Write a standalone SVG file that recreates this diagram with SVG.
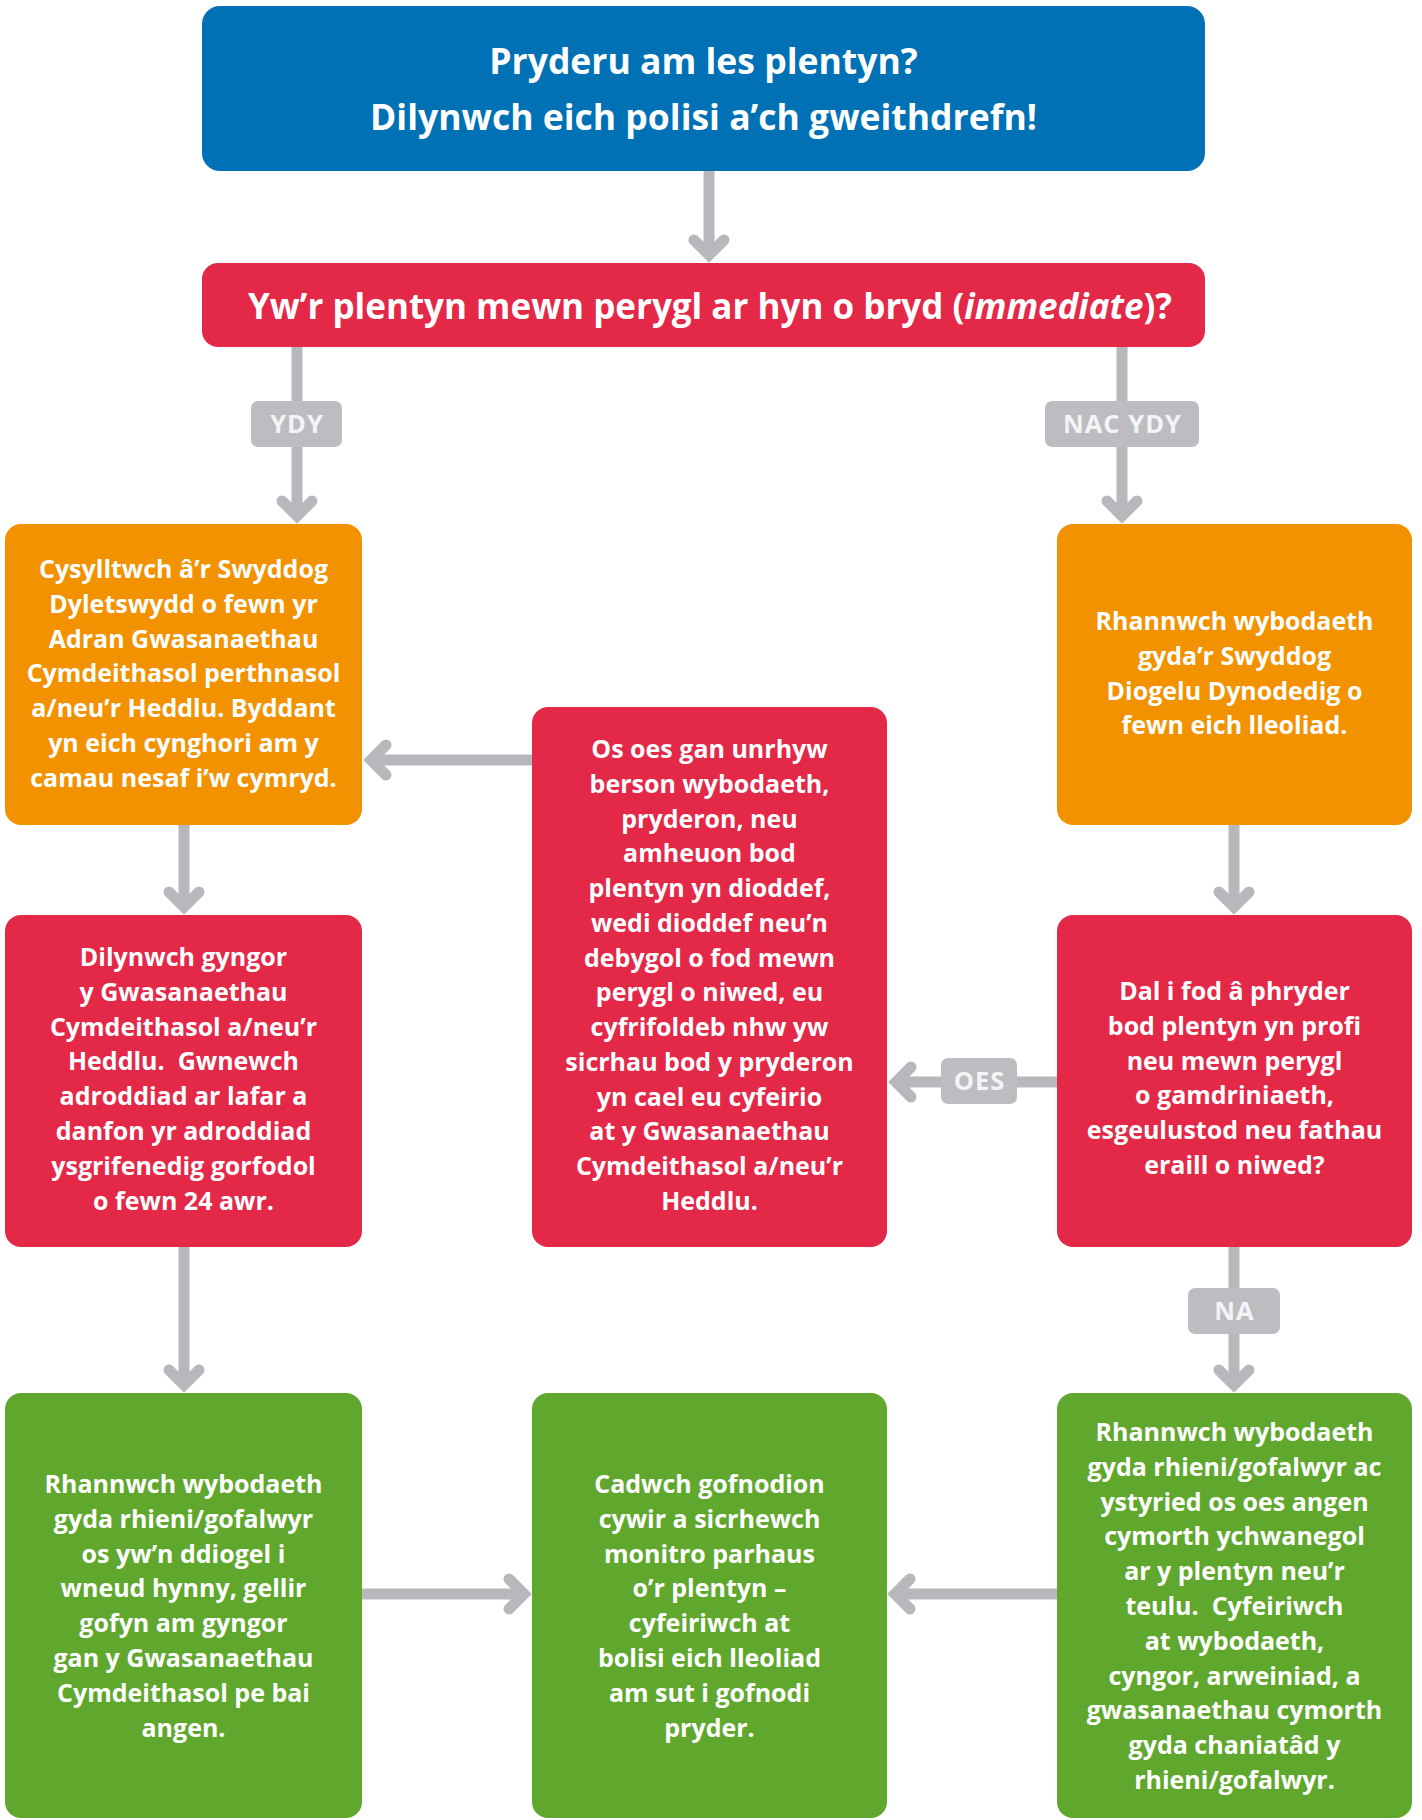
<svg xmlns="http://www.w3.org/2000/svg" width="1422" height="1820" viewBox="0 0 1422 1820">
<style>
.blue{fill:#0071b5}
.red{fill:#e42848}
.orange{fill:#f39200}
.green{fill:#5fa82d}
.t{font-family:"Open Sans","Liberation Sans",sans-serif;font-weight:700;fill:#ffffff;text-anchor:middle}
.body{font-size:25px}
.head{font-size:35.5px}
.bar{font-size:35px}
.conn{stroke:#b7b8bc;stroke-width:11;fill:none}
.lbl{fill:#bdbdc1}
.lt{font-family:"Open Sans","Liberation Sans",sans-serif;font-weight:700;font-size:25.5px;fill:#f4f4f6;text-anchor:middle;letter-spacing:1px}
</style>
<defs>
<marker id="ah" markerUnits="userSpaceOnUse" markerWidth="60" markerHeight="60" viewBox="-30 -30 60 60" refX="0" refY="0" orient="auto" overflow="visible">
<path d="M -15,-15 L 0,0 L -15,15" fill="none" stroke="#b7b8bc" stroke-width="11" stroke-linejoin="miter" stroke-linecap="round"/>
</marker>
</defs>
<rect width="1422" height="1820" fill="#ffffff"/>

<g id="connectors">
<line class="conn" x1="709" y1="171" x2="709" y2="255" marker-end="url(#ah)"/>
<line class="conn" x1="297" y1="347" x2="297" y2="516" marker-end="url(#ah)"/>
<line class="conn" x1="1122" y1="347" x2="1122" y2="516" marker-end="url(#ah)"/>
<line class="conn" x1="532" y1="760" x2="371" y2="760" marker-end="url(#ah)"/>
<line class="conn" x1="184" y1="825" x2="184" y2="907" marker-end="url(#ah)"/>
<line class="conn" x1="1234" y1="825" x2="1234" y2="907" marker-end="url(#ah)"/>
<line class="conn" x1="1057" y1="1082" x2="896" y2="1082" marker-end="url(#ah)"/>
<line class="conn" x1="184" y1="1247" x2="184" y2="1385" marker-end="url(#ah)"/>
<line class="conn" x1="1234" y1="1247" x2="1234" y2="1385" marker-end="url(#ah)"/>
<line class="conn" x1="362" y1="1594" x2="524" y2="1594" marker-end="url(#ah)"/>
<line class="conn" x1="1057" y1="1594" x2="895" y2="1594" marker-end="url(#ah)"/>
<g id="label-ydy"><rect class="lbl" x="251" y="401" width="91" height="46" rx="7"/><text class="lt" x="297" y="433">YDY</text></g>
<g id="label-nacydy"><rect class="lbl" x="1045" y="401" width="154" height="46" rx="7"/><text class="lt" x="1122.5" y="433">NAC YDY</text></g>
<g id="label-oes"><rect class="lbl" x="941" y="1058" width="76" height="46" rx="7"/><text class="lt" x="979.5" y="1090">OES</text></g>
<g id="label-na"><rect class="lbl" x="1188" y="1288" width="92" height="46" rx="7"/><text class="lt" x="1234.5" y="1320">NA</text></g>
</g>

<g id="start">
<rect class="blue" x="202" y="6" width="1003" height="165" rx="18"/>
<text class="t head" x="703.5" y="73.5">Pryderu am les plentyn?</text>
<text class="t head" x="703.5" y="129.5">Dilynwch eich polisi a’ch gweithdrefn!</text>
</g>

<g id="question">
<rect class="red" x="202" y="263" width="1003" height="84" rx="16"/>
<text class="t bar" x="710" y="319">Yw’r plentyn mewn perygl ar hyn o bryd (<tspan font-style="italic">immediate</tspan>)?</text>
</g>

<g id="contact-duty">
<rect class="orange" x="5" y="524" width="357" height="301" rx="16"/>
<text class="t body" x="183.5" y="578">Cysylltwch â’r Swyddog</text>
<text class="t body" x="183.5" y="612.8">Dyletswydd o fewn yr</text>
<text class="t body" x="183.5" y="647.6">Adran Gwasanaethau</text>
<text class="t body" x="183.5" y="682.4">Cymdeithasol perthnasol</text>
<text class="t body" x="183.5" y="717.2">a/neu’r Heddlu. Byddant</text>
<text class="t body" x="183.5" y="752">yn eich cynghori am y</text>
<text class="t body" x="183.5" y="786.8">camau nesaf i’w cymryd.</text>
</g>

<g id="share-dsp">
<rect class="orange" x="1057" y="524" width="355" height="301" rx="16"/>
<text class="t body" x="1234.5" y="630">Rhannwch wybodaeth</text>
<text class="t body" x="1234.5" y="664.8">gyda’r Swyddog</text>
<text class="t body" x="1234.5" y="699.6">Diogelu Dynodedig o</text>
<text class="t body" x="1234.5" y="734.4">fewn eich lleoliad.</text>
</g>

<g id="anyone">
<rect class="red" x="532" y="707" width="355" height="540" rx="16"/>
<text class="t body" x="709.5" y="758">Os oes gan unrhyw</text>
<text class="t body" x="709.5" y="792.75">berson wybodaeth,</text>
<text class="t body" x="709.5" y="827.5">pryderon, neu</text>
<text class="t body" x="709.5" y="862.25">amheuon bod</text>
<text class="t body" x="709.5" y="897">plentyn yn dioddef,</text>
<text class="t body" x="709.5" y="931.75">wedi dioddef neu’n</text>
<text class="t body" x="709.5" y="966.5">debygol o fod mewn</text>
<text class="t body" x="709.5" y="1001.25">perygl o niwed, eu</text>
<text class="t body" x="709.5" y="1036">cyfrifoldeb nhw yw</text>
<text class="t body" x="709.5" y="1070.75">sicrhau bod y pryderon</text>
<text class="t body" x="709.5" y="1105.5">yn cael eu cyfeirio</text>
<text class="t body" x="709.5" y="1140.25">at y Gwasanaethau</text>
<text class="t body" x="709.5" y="1175">Cymdeithasol a/neu’r</text>
<text class="t body" x="709.5" y="1209.75">Heddlu.</text>
</g>

<g id="follow-advice">
<rect class="red" x="5" y="915" width="357" height="332" rx="16"/>
<text class="t body" x="183.5" y="966">Dilynwch gyngor</text>
<text class="t body" x="183.5" y="1000.8">y Gwasanaethau</text>
<text class="t body" x="183.5" y="1035.6">Cymdeithasol a/neu’r</text>
<text class="t body" x="183.5" y="1070.4" xml:space="preserve">Heddlu.  Gwnewch</text>
<text class="t body" x="183.5" y="1105.2">adroddiad ar lafar a</text>
<text class="t body" x="183.5" y="1140">danfon yr adroddiad</text>
<text class="t body" x="183.5" y="1174.8">ysgrifenedig gorfodol</text>
<text class="t body" x="183.5" y="1209.6">o fewn 24 awr.</text>
</g>

<g id="still-concerned">
<rect class="red" x="1057" y="915" width="355" height="332" rx="16"/>
<text class="t body" x="1234.5" y="1000">Dal i fod â phryder</text>
<text class="t body" x="1234.5" y="1034.8">bod plentyn yn profi</text>
<text class="t body" x="1234.5" y="1069.6">neu mewn perygl</text>
<text class="t body" x="1234.5" y="1104.4">o gamdriniaeth,</text>
<text class="t body" x="1234.5" y="1139.2">esgeulustod neu fathau</text>
<text class="t body" x="1234.5" y="1174">eraill o niwed?</text>
</g>

<g id="share-parents-safe">
<rect class="green" x="5" y="1393" width="357" height="425" rx="16"/>
<text class="t body" x="183.5" y="1493">Rhannwch wybodaeth</text>
<text class="t body" x="183.5" y="1527.8">gyda rhieni/gofalwyr</text>
<text class="t body" x="183.5" y="1562.6">os yw’n ddiogel i</text>
<text class="t body" x="183.5" y="1597.4">wneud hynny, gellir</text>
<text class="t body" x="183.5" y="1632.2">gofyn am gyngor</text>
<text class="t body" x="183.5" y="1667">gan y Gwasanaethau</text>
<text class="t body" x="183.5" y="1701.8">Cymdeithasol pe bai</text>
<text class="t body" x="183.5" y="1736.6">angen.</text>
</g>

<g id="keep-records">
<rect class="green" x="532" y="1393" width="355" height="425" rx="16"/>
<text class="t body" x="709.5" y="1493">Cadwch gofnodion</text>
<text class="t body" x="709.5" y="1527.8">cywir a sicrhewch</text>
<text class="t body" x="709.5" y="1562.6">monitro parhaus</text>
<text class="t body" x="709.5" y="1597.4">o’r plentyn –</text>
<text class="t body" x="709.5" y="1632.2">cyfeiriwch at</text>
<text class="t body" x="709.5" y="1667">bolisi eich lleoliad</text>
<text class="t body" x="709.5" y="1701.8">am sut i gofnodi</text>
<text class="t body" x="709.5" y="1736.6">pryder.</text>
</g>

<g id="share-parents-support">
<rect class="green" x="1057" y="1393" width="355" height="425" rx="16"/>
<text class="t body" x="1234.5" y="1441">Rhannwch wybodaeth</text>
<text class="t body" x="1234.5" y="1475.8">gyda rhieni/gofalwyr ac</text>
<text class="t body" x="1234.5" y="1510.6">ystyried os oes angen</text>
<text class="t body" x="1234.5" y="1545.4">cymorth ychwanegol</text>
<text class="t body" x="1234.5" y="1580.2">ar y plentyn neu’r</text>
<text class="t body" x="1234.5" y="1615" xml:space="preserve">teulu.  Cyfeiriwch</text>
<text class="t body" x="1234.5" y="1649.8">at wybodaeth,</text>
<text class="t body" x="1234.5" y="1684.6">cyngor, arweiniad, a</text>
<text class="t body" x="1234.5" y="1719.4">gwasanaethau cymorth</text>
<text class="t body" x="1234.5" y="1754.2">gyda chaniatâd y</text>
<text class="t body" x="1234.5" y="1789">rhieni/gofalwyr.</text>
</g>
</svg>
